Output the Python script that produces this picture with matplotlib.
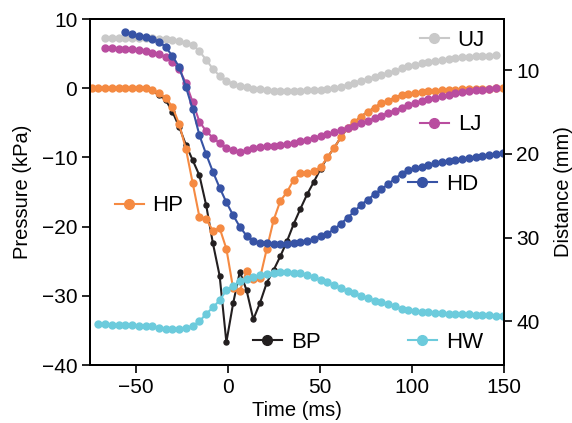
import numpy as np
import matplotlib

matplotlib.use("Agg")
import matplotlib.pyplot as plt
from matplotlib.lines import Line2D
from matplotlib.legend import Legend

plt.rcParams["font.family"] = ["Liberation Sans", "DejaVu Sans"]

# video frames, ~3.66 ms apart
frame_ms = -74 + 3.66 * np.arange(62)

# pressure (kPa), left axis
hp_start = 0
hp = [0, 0, 0, 0, 0, 0, 0, 0, 0,
      -0.2, -0.7, -1.4, -2.7, -5.2, -8.8, -13.7, -18.6, -18.9, -20.6,
      -20.2, -23.2, -28.9, -29.3, -26.4, -27.5, -27.4, -23.2, -19.1, -16.3,
      -15.0, -13.2, -12.3, -12.2, -12.0, -11.4, -10.0, -8.6, -7.1, -5.7,
      -4.9, -4.1, -3.4, -2.8, -2.2, -1.8, -1.4, -1.0, -0.85, -0.7,
      -0.55, -0.45, -0.35, -0.3, -0.25, -0.2, -0.15, -0.15, -0.1, -0.1,
      -0.05, 0, 0]
bp_start = 0
bp = [0, 0, 0, 0, 0, 0, 0, 0, 0,
      -0.3, -1.0, -1.7, -3.4, -5.6, -8.2, -10.4, -12.6, -16.9, -22.4,
      -27.1, -36.7, -31.1, -26.5, -29.2, -33.4, -31.0, -28.1, -26.3, -24.3,
      -22.1, -19.6, -17.4, -15.3, -13.5, -11.6, -10.0, -8.6, -7.1, -5.7,
      -4.9, -4.1, -3.4, -2.8, -2.2, -1.8, -1.4, -1.0, -0.85, -0.7,
      -0.55, -0.45, -0.35, -0.3, -0.25, -0.2, -0.15, -0.15, -0.1, -0.1,
      -0.05, 0, 0]

# distance (mm), right axis
uj_start = 2
uj = [6.14, 6.14, 6.15, 6.15, 6.16, 6.18, 6.20, 6.22, 6.27, 6.34,
      6.44, 6.56, 6.73, 6.95, 7.75, 8.76, 9.86, 10.69, 11.27, 11.67,
      11.91, 12.07, 12.20, 12.31, 12.39, 12.44, 12.47, 12.49, 12.49, 12.46,
      12.43, 12.39, 12.34, 12.29, 12.15, 11.97, 11.74, 11.48, 11.27, 11.06,
      10.81, 10.56, 10.31, 10.12, 9.80, 9.56, 9.38, 9.19, 9.04, 8.91,
      8.76, 8.65, 8.55, 8.48, 8.42, 8.36, 8.30, 8.26, 8.22]
lj_start = 2
lj = [7.35, 7.38, 7.42, 7.47, 7.53, 7.62, 7.74, 7.91, 8.12, 8.45,
      9.04, 9.88, 11.55, 13.82, 16.15, 17.29, 18.06, 18.72, 19.26, 19.56,
      19.83, 19.56, 19.30, 19.18, 19.08, 19.02, 18.96, 18.84, 18.66, 18.48,
      18.28, 18.08, 17.86, 17.65, 17.41, 17.14, 16.92, 16.62, 16.33, 16.05,
      15.73, 15.42, 15.12, 14.82, 14.48, 14.17, 13.90, 13.68, 13.48, 13.30,
      13.11, 12.92, 12.77, 12.63, 12.51, 12.43, 12.32, 12.21, 12.14]
hd_start = 5
hd = [5.50, 5.68, 5.88, 6.03, 6.27, 6.59, 7.25, 8.33, 9.64, 12.03,
      14.66, 17.77, 20.04, 22.13, 24.04, 25.77, 27.32, 28.70, 29.77, 30.35,
      30.61, 30.69, 30.76, 30.79, 30.73, 30.65, 30.55, 30.38, 30.17, 29.83,
      29.50, 29.00, 28.34, 27.62, 26.85, 26.07, 25.45, 24.81, 24.22, 23.62,
      22.96, 22.37, 21.95, 21.71, 21.52, 21.33, 21.12, 20.98, 20.86, 20.72,
      20.59, 20.49, 20.38, 20.23, 20.10, 19.98, 19.89]
hw_start = 1
hw = [40.35, 40.35, 40.37, 40.39, 40.42, 40.47, 40.49, 40.51, 40.59, 40.73,
      40.85, 40.93, 40.90, 40.76, 40.53, 39.99, 39.09, 38.32, 37.48, 36.28,
      35.75, 35.21, 34.89, 34.67, 34.49, 34.31, 34.22, 34.11, 34.10, 34.16,
      34.25, 34.44, 34.73, 35.03, 35.33, 35.64, 36.02, 36.33, 36.64, 36.93,
      37.22, 37.50, 37.72, 37.96, 38.20, 38.51, 38.65, 38.73, 38.84, 38.90,
      38.94, 39.00, 39.06, 39.08, 39.10, 39.14, 39.18, 39.21, 39.25, 39.30,
      39.33]

c_hp = "#f58a42"
c_bp = "#231f20"
c_uj = "#c9c9c9"
c_lj = "#b94d9f"
c_hd = "#3753a5"
c_hw = "#6ccbdc"

TICK_FS = 15
LABEL_FS = 14.5
LEG_FS = 16


def tt(start, vals):
    return frame_ms[start:start + len(vals)]


fig = plt.figure(figsize=(5.72, 4.23), dpi=100)
ax = fig.add_axes([0.157, 0.137, 0.724, 0.818])
ax2 = ax.twinx()

ax.plot(tt(bp_start, bp), bp, color=c_bp, lw=1.5, marker="o", ms=3.6)
ax.plot(tt(hp_start, hp), hp, color=c_hp, lw=1.5, marker="o", ms=5)

ax2.plot(tt(uj_start, uj), uj, color=c_uj, lw=1.5, marker="o", ms=5)
ax2.plot(tt(lj_start, lj), lj, color=c_lj, lw=1.5, marker="o", ms=5)
ax2.plot(tt(hd_start, hd), hd, color=c_hd, lw=1.5, marker="o", ms=5)
ax2.plot(tt(hw_start, hw), hw, color=c_hw, lw=1.5, marker="o", ms=5)

ax.set_xlim(-75, 150)
ax.set_ylim(-40, 10)
ax2.set_ylim(45.2, 3.9)
ax.set_xticks([-50, 0, 50, 100, 150])
ax.set_yticks([10, 0, -10, -20, -30, -40])
ax.set_yticklabels(["10", "0", "\u221210", "\u221220", "\u221230", "\u221240"])
ax.set_xticklabels(["\u221250", "0", "50", "100", "150"])
ax2.set_yticks([10, 20, 30, 40])

for a in (ax, ax2):
    a.tick_params(direction="out", length=6, width=1.2, labelsize=TICK_FS, pad=3)
    for s in a.spines.values():
        s.set_linewidth(1.4)

ax.set_xlabel("Time (ms)", fontsize=LABEL_FS, labelpad=3)
ax.set_ylabel("Pressure (kPa)", fontsize=LABEL_FS, labelpad=7)
ax2.set_ylabel("Distance (mm)", fontsize=LABEL_FS, labelpad=10)

# one small legend per trace, placed next to its curve
labels = [("UJ", c_uj, (0.797, 0.939)),
          ("LJ", c_lj, (0.797, 0.694)),
          ("HD", c_hd, (0.768, 0.523)),
          ("HP", c_hp, (0.060, 0.460)),
          ("BP", c_bp, (0.394, 0.065)),
          ("HW", c_hw, (0.768, 0.065))]
for name, col, pos in labels:
    h = Line2D([], [], color=col, lw=1.5, marker="o", ms=7)
    leg = Legend(ax2, [h], [name], loc="center left", bbox_to_anchor=pos,
                 frameon=False, fontsize=LEG_FS, handlelength=1.3,
                 handletextpad=0.4, borderpad=0, borderaxespad=0,
                 numpoints=1)
    ax2.add_artist(leg)

fig.savefig("out.png", dpi=100)
